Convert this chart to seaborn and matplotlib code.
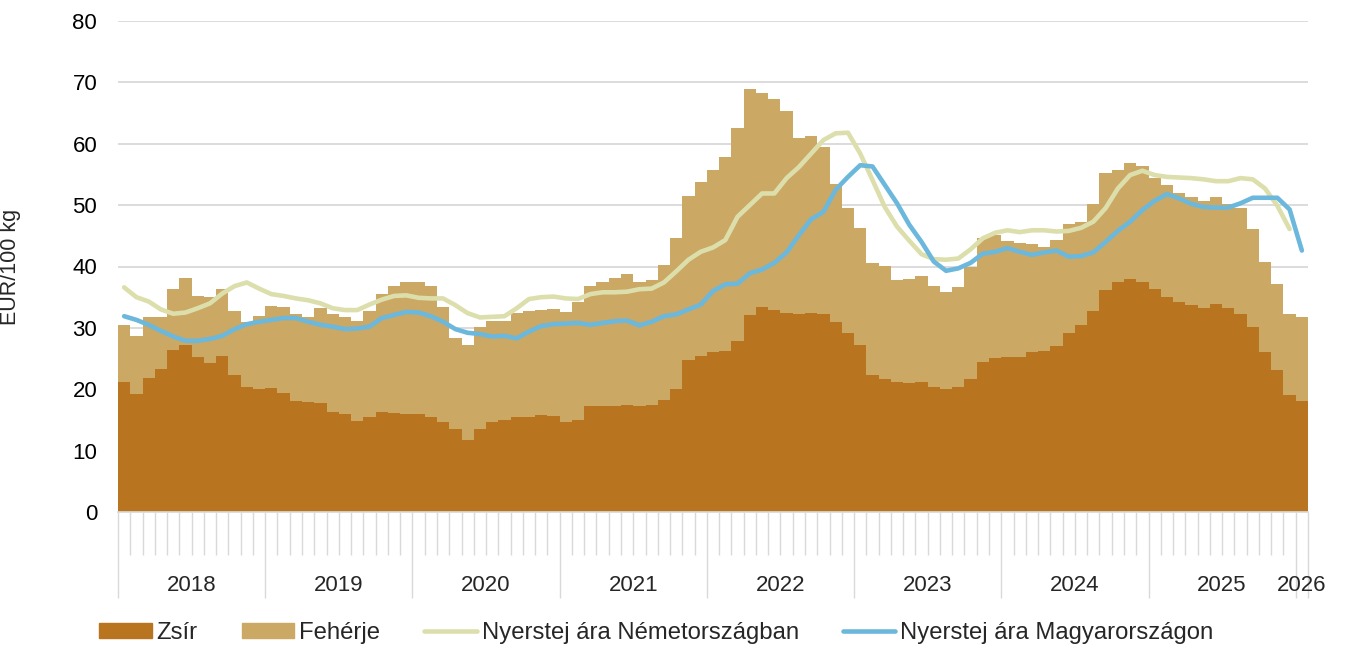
import numpy as np
import pandas as pd
import matplotlib.pyplot as plt
import seaborn as sns
from matplotlib.patches import Patch
from matplotlib.lines import Line2D
from matplotlib.transforms import blended_transform_factory

# Havi adatok, 2018 jan - 2026 jan (EUR/100 kg)
honapok = pd.date_range("2018-01-01", "2026-01-01", freq="MS").strftime("%Y-%m").tolist()

zsir = [21.1, 19.3, 21.9, 23.3, 26.4, 27.2, 25.3, 24.3, 25.4, 22.3, 20.3, 20.0,
        20.2, 19.4, 18.1, 17.9, 17.8, 16.3, 15.9, 14.9, 15.5, 16.3, 16.2, 16.0,
        15.9, 15.4, 14.6, 13.6, 11.8, 13.6, 14.7, 15.0, 15.4, 15.5, 15.8, 15.6,
        14.6, 15.0, 17.2, 17.2, 17.3, 17.4, 17.3, 17.4, 18.2, 20.1, 24.8, 25.4,
        26.0, 26.3, 27.9, 32.1, 33.4, 32.9, 32.5, 32.2, 32.4, 32.3, 31.0, 29.1,
        27.2, 22.3, 21.6, 21.1, 21.0, 21.1, 20.4, 20.1, 20.4, 21.6, 24.5, 25.1,
        25.2, 25.3, 26.1, 26.3, 27.1, 29.2, 30.4, 32.8, 36.1, 37.5, 38.0, 37.5,
        36.3, 35.0, 34.2, 33.7, 33.3, 33.9, 33.3, 32.3, 30.1, 26.1, 23.1, 19.1,
        18.1]

feherje = [9.4, 9.4, 9.8, 8.4, 10.0, 10.9, 9.9, 10.7, 11.0, 10.4, 10.7, 12.0,
           13.3, 14.0, 14.2, 13.9, 15.5, 16.0, 15.8, 16.2, 17.2, 19.2, 20.7, 21.4,
           21.6, 21.4, 18.8, 14.7, 15.4, 16.5, 16.5, 16.2, 17.0, 17.3, 17.1, 17.4,
           18.0, 19.2, 19.7, 20.3, 20.9, 21.4, 20.2, 20.4, 22.0, 24.5, 26.7, 28.3,
           29.8, 31.6, 34.6, 36.9, 34.8, 34.4, 32.9, 28.8, 28.9, 27.2, 22.4, 20.4,
           19.1, 18.3, 18.5, 16.7, 16.9, 17.4, 16.4, 15.8, 16.2, 18.4, 20.1, 20.0,
           19.0, 18.5, 17.5, 16.9, 17.2, 17.7, 16.9, 17.4, 19.2, 18.3, 18.8, 18.8,
           18.2, 18.3, 17.8, 17.6, 17.3, 17.5, 16.9, 17.2, 16.0, 14.6, 14.0, 13.2,
           13.6]

nemet = [36.6, 35.0, 34.3, 33.0, 32.3, 32.5, 33.2, 34.0, 35.6, 36.8, 37.4, 36.4,
         35.5, 35.2, 34.8, 34.5, 34.0, 33.2, 32.9, 32.9, 33.8, 34.6, 35.2, 35.3,
         34.9, 34.8, 34.8, 33.7, 32.4, 31.7, 31.8, 31.9, 33.2, 34.7, 35.0, 35.1,
         34.8, 34.7, 35.5, 35.8, 35.8, 35.9, 36.3, 36.4, 37.4, 39.2, 41.1, 42.4,
         43.1, 44.3, 48.1, 50.0, 51.9, 51.9, 54.4, 56.2, 58.4, 60.6, 61.7, 61.8,
         58.4, 54.1, 49.7, 46.5, 44.2, 42.0, 41.2, 41.1, 41.3, 42.8, 44.6, 45.5,
         45.9, 45.6, 45.9, 45.9, 45.7, 45.8, 46.3, 47.3, 49.5, 52.7, 54.9, 55.6,
         54.9, 54.6, 54.5, 54.4, 54.2, 53.9, 53.9, 54.4, 54.2, 52.7, 49.9, 46.1,
         np.nan]

magyar = [31.9, 31.3, 30.5, 29.5, 28.6, 27.9, 27.9, 28.2, 28.7, 29.8, 30.6, 31.0,
          31.3, 31.6, 31.6, 31.0, 30.5, 30.2, 29.8, 29.9, 30.2, 31.6, 32.1, 32.6,
          32.5, 31.9, 31.0, 29.8, 29.2, 29.0, 28.6, 28.7, 28.3, 29.4, 30.3, 30.6,
          30.7, 30.8, 30.5, 30.8, 31.1, 31.2, 30.4, 31.0, 31.9, 32.2, 33.0, 33.8,
          36.0, 37.1, 37.2, 38.9, 39.5, 40.6, 42.3, 45.1, 47.7, 48.9, 52.5, 54.6,
          56.5, 56.3, 53.3, 50.3, 46.8, 44.0, 40.8, 39.3, 39.7, 40.6, 42.1, 42.4,
          43.0, 42.4, 41.9, 42.3, 42.6, 41.6, 41.7, 42.3, 44.0, 45.8, 47.3, 49.2,
          50.7, 51.8, 51.1, 50.2, 49.7, 49.6, 49.6, 50.3, 51.2, 51.2, 51.2, 49.3,
          42.6]

evek = ["2018", "2019", "2020", "2021", "2022", "2023", "2024", "2025", "2026"]

szin_zsir = "#B8741F"
szin_feherje = "#CBA863"
szin_nemet = "#DCDFAC"
szin_magyar = "#6CB8DC"
szin_racs = "#D9D9D9"

df = pd.DataFrame({"honap": honapok, "zsir": zsir, "feherje": feherje,
                   "nemet": nemet, "magyar": magyar})
df["pos"] = np.arange(len(df))
df["ossz"] = df["zsir"] + df["feherje"]

sns.set_theme(style="white")
plt.rcParams["font.family"] = ["Liberation Sans", "DejaVu Sans"]

fig, ax = plt.subplots(figsize=(13.46, 6.48), dpi=100)
fig.subplots_adjust(left=118 / 1346, right=1308 / 1346, top=1 - 21 / 648, bottom=1 - 512 / 648)

# Oszlopok (halmozott: fehérje a zsír tetején)
sns.barplot(data=df, x="pos", y="ossz", native_scale=True, color=szin_feherje,
            saturation=1, width=1.0, errorbar=None, linewidth=0, ax=ax)
sns.barplot(data=df, x="pos", y="zsir", native_scale=True, color=szin_zsir,
            saturation=1, width=1.0, errorbar=None, linewidth=0, ax=ax)

# Vonalak
sns.lineplot(data=df, x="pos", y="nemet", color=szin_nemet, lw=3.3,
             solid_capstyle="round", ax=ax)
sns.lineplot(data=df, x="pos", y="magyar", color=szin_magyar, lw=3.3,
             solid_capstyle="round", ax=ax)

ax.set_xlim(-0.5, len(df) - 0.5)
ax.set_ylim(0, 80)
ax.set_yticks(range(0, 81, 10))
ax.yaxis.grid(True, color=szin_racs, lw=1.3)
ax.set_axisbelow(True)
for s in ["left", "right", "top"]:
    ax.spines[s].set_visible(False)
ax.spines["bottom"].set_color(szin_racs)

# Kategória tengely: havi jelek és évhatárok
ev_hatar = [-0.5 + 12 * i for i in range(9)] + [len(df) - 0.5]
ax.set_xticks(ev_hatar)
ax.set_xticklabels([])
ax.set_xticks(np.arange(-0.5, len(df), 1), minor=True)
ax.tick_params(axis="x", which="minor", bottom=True, length=31, width=1, color=szin_racs)
ax.tick_params(axis="x", which="major", bottom=True, length=62, width=1, color=szin_racs)
ax.tick_params(axis="y", length=0, pad=15, labelsize=16, labelcolor="black")

trans = blended_transform_factory(ax.transData, ax.transAxes)
for i, ev in enumerate(evek):
    kozep = min(12 * i + 5.5, len(df) - 1)
    ax.text(kozep, -0.1487, ev, transform=trans, ha="center", va="center", fontsize=16)

ax.set_xlabel("")
ax.set_ylabel("EUR/100 kg", fontsize=15.5)
ax.yaxis.set_label_coords(-0.0812, 0.5)

handles = [Patch(color=szin_zsir), Patch(color=szin_feherje),
           Line2D([], [], color=szin_nemet, lw=3.3, solid_capstyle="round"),
           Line2D([], [], color=szin_magyar, lw=3.3, solid_capstyle="round")]
labels = ["Zsír", "Fehérje", "Nyerstej ára Németországban", "Nyerstej ára Magyarországon"]
fig.legend(handles, labels, loc="center left", bbox_to_anchor=(99 / 1346, 1 - 633 / 648),
           ncol=4, frameon=False, fontsize=17.2, handlelength=2.2, handleheight=0.55,
           handletextpad=0.2, columnspacing=1.85, borderpad=0, borderaxespad=0)

fig.savefig("out.png", dpi=100)
